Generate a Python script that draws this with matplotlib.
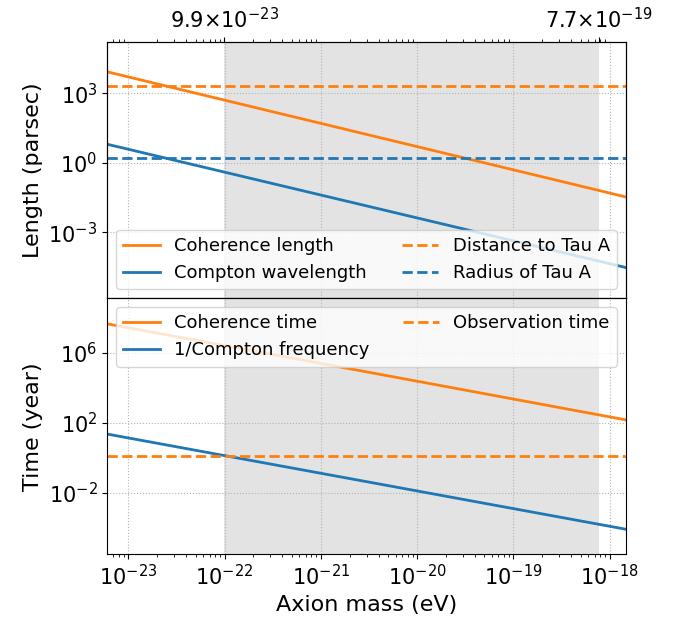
import numpy as np
import matplotlib
matplotlib.use('Agg')
import matplotlib.pyplot as plt

# axion mass range shown (eV), line end points
mass = [6.05e-24, 1.48e-18]
mass_ticks = [1e-23, 1e-22, 1e-21, 1e-20, 1e-19, 1e-18]

# top panel: lengths (parsec)
coh_length = [10**3.93, 10**-1.48]
compton_wl = [10**0.80, 10**-4.53]
dist_tau_a = 2.0e3
radius_tau_a = 1.66

# bottom panel: times (year)
coh_time = [10**7.64, 10**2.15]
inv_compton_f = [10**1.34, 10**-4.10]
obs_time = 1.25

# shaded mass window
m_lo, m_hi = 9.9e-23, 7.7e-19
top_ticks = [m_lo, m_hi]
top_labels = [r'$9.9{\times}10^{-23}$', r'$7.7{\times}10^{-19}$']

fig, (ax1, ax2) = plt.subplots(2, 1, sharex=True, figsize=(6.83, 6.23), dpi=100)
fig.subplots_adjust(left=0.157, right=0.9165, top=0.933, bottom=0.110, hspace=0)

for ax in (ax1, ax2):
    ax.axvspan(m_lo, m_hi, color='0.89', lw=0, zorder=0)
    ax.set_xscale('log')
    ax.set_yscale('log')
    ax.grid(True, which='major', ls=':', color='0.7')
    ax.tick_params(labelsize=15)

#top panel
ax1.plot(mass, coh_length, color='C1', lw=2, label='Coherence length')
ax1.plot(mass, compton_wl, color='C0', lw=2, label='Compton wavelength')
ax1.axhline(dist_tau_a, color='C1', ls='--', lw=2, label='Distance to Tau A')
ax1.axhline(radius_tau_a, color='C0', ls='--', lw=2, label='Radius of Tau A')
ax1.set_ylim(10**-5.85, 10**5.23)
ax1.set_yticks([1e-3, 1e0, 1e3])
ax1.set_ylabel('Length (parsec)', fontsize=16)
ax1.legend(loc='lower left', ncol=2, mode='expand', fontsize=13)

#bottom panel
ax2.plot(mass, coh_time, color='C1', lw=2, label='Coherence time')
ax2.plot(mass, inv_compton_f, color='C0', lw=2, label='1/Compton frequency')
ax2.axhline(obs_time, color='C1', ls='--', lw=2, label='Observation time')
ax2.set_ylim(10**-5.54, 10**9.11)
ax2.set_yticks([1e-2, 1e2, 1e6])
ax2.set_ylabel('Time (year)', fontsize=16)
ax2.set_xlabel('Axion mass (eV)', fontsize=16)
ax2.legend(loc='upper left', ncol=2, mode='expand', fontsize=13)

ax2.set_xticks(mass_ticks)
ax2.set_xlim(mass[0], mass[1])

# secondary axis marking the window edges
axt = ax1.twiny()
axt.set_xscale('log')
axt.set_xlim(mass[0], mass[1])
axt.set_xticks(top_ticks)
axt.set_xticklabels(top_labels)
axt.tick_params(labelsize=15)

plt.savefig('out.png', dpi=100)
